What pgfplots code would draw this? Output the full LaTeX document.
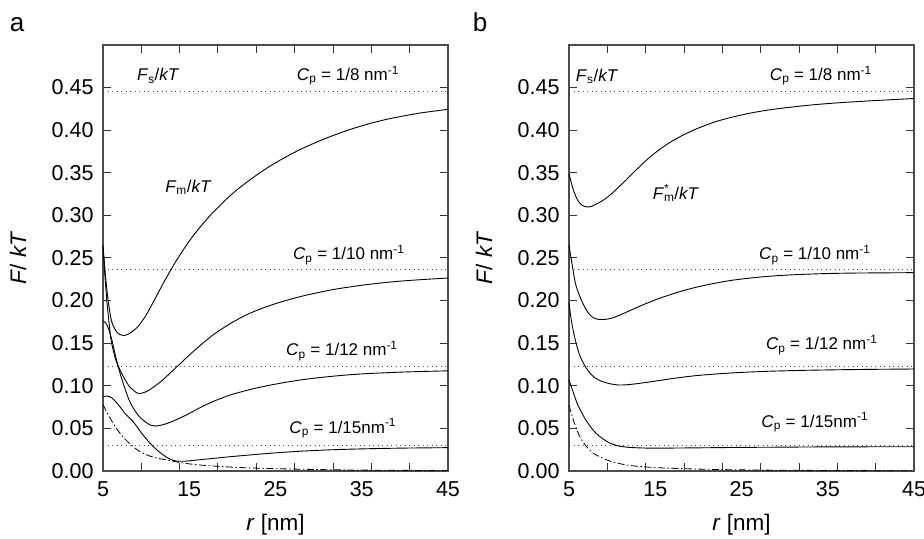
\documentclass[border=0pt]{standalone}
\usepackage{fontspec}
\setmainfont{Liberation Sans}
\usepackage{pgfplots}
\pgfplotsset{compat=1.18}
\pgfplotsset{
  panel/.style={
    scale only axis, width=345bp, height=426bp,
    xmin=5, xmax=45, ymin=0, ymax=0.5,
    clip=false,
    % tick marks every 40/9 nm, labels every 10 nm without marks
    xtick={9.444,13.889,18.333,22.778,27.222,31.667,36.111,40.556},
    xticklabels={},
    extra x ticks={5,15,25,35,45},
    extra x tick labels={5,15,25,35,45},
    extra x tick style={major tick length=0pt},
    ytick={0,0.05,0.1,0.15,0.2,0.25,0.3,0.35,0.4,0.45},
    xtick pos=both, ytick pos=both, xtick align=inside, ytick align=inside,
    major tick length=8bp,
    major tick style={black!80, line width=1bp},
    axis line style={black!70, line width=1.3bp},
    /pgf/number format/assume math mode=true,
    yticklabel style={/pgf/number format/fixed, /pgf/number format/fixed zerofill,
      /pgf/number format/precision=2, xshift=-6bp},
    xticklabel style={yshift=-7bp},
    ticklabel style={font=\fontsize{21.5bp}{25bp}\selectfont},
    label style={font=\fontsize{22.5bp}{26bp}\selectfont},
    xlabel={\textit{r} [nm]},
    ylabel={\textit{F}/ \textit{kT}},
    xlabel style={at={(axis description cs:0.5,-0.127)}, anchor=center},
    ylabel style={at={(axis description cs:-0.246,0.5)}, anchor=center},
  },
  curve/.style={black, line width=0.9bp, smooth, no markers},
  sline/.style={black!70, line width=0.9bp, dash pattern=on 1bp off 3.5bp, no markers},
  dd/.style={black, line width=0.8bp, smooth, dash pattern=on 7bp off 2.5bp on 1.5bp off 2.5bp, no markers},
}
\tikzset{lab/.style={font=\fontsize{17bp}{20bp}\selectfont}}
\begin{document}
\begin{tikzpicture}
\useasboundingbox (0,0) rectangle (924bp,539bp);

% ---- panel a ----
\begin{axis}[panel, at={(103bp,68bp)}, anchor=south west]
  % F_s levels
  \addplot[sline] coordinates {(5,0.445) (45,0.445)};
  \addplot[sline] coordinates {(5,0.236) (45,0.236)};
  \addplot[sline] coordinates {(5,0.1225) (45,0.1225)};
  \addplot[sline] coordinates {(5,0.030) (45,0.030)};
  % C_p = 1/8
  \addplot[curve] coordinates {
    (5,0.265) (5.3,0.228) (5.6,0.200) (5.9,0.180) (6.2,0.170) (6.6,0.163)
    (7.0,0.160) (7.4,0.159) (8,0.161) (9,0.169) (10,0.183) (11,0.2015)
    (12,0.2205) (13,0.2385) (14,0.2548) (15,0.2698) (16,0.283) (17,0.295)
    (18,0.306) (20,0.3255) (22,0.3415) (24,0.3555) (26,0.3675) (28,0.378)
    (30,0.387) (32,0.395) (34,0.402) (36,0.408) (38,0.413) (40,0.417)
    (42,0.4205) (45,0.4245)};
  % C_p = 1/10
  \addplot[curve] coordinates {
    (5,0.262) (5.4,0.205) (5.8,0.165) (6.0,0.150) (6.5,0.130) (7.2,0.114)
    (8,0.100) (8.5,0.095) (9.1,0.091) (10,0.093) (11,0.0995) (12,0.1075)
    (13,0.117) (14,0.1265) (15,0.136) (16,0.145) (17,0.1535) (18,0.1615)
    (20,0.1745) (22,0.185) (24,0.193) (26,0.1995) (28,0.205) (30,0.2095)
    (32,0.2135) (35,0.218) (38,0.2215) (41,0.224) (45,0.2265)};
  % C_p = 1/12
  \addplot[curve] coordinates {
    (5,0.176) (5.3,0.174) (5.6,0.168) (6,0.155) (6.5,0.133) (7,0.114)
    (7.5,0.098) (8,0.084) (8.5,0.074) (9.2,0.064) (10,0.057) (10.6,0.0535)
    (11.3,0.0530) (12,0.0545) (13,0.058) (14,0.0625) (15,0.0675) (16,0.073)
    (17,0.078) (18,0.0825) (19,0.0865) (20,0.090) (22,0.0955) (24,0.100)
    (26,0.1038) (28,0.107) (30,0.1095) (33,0.1125) (36,0.1145) (40,0.1162)
    (45,0.1176)};
  % C_p = 1/15
  \addplot[curve] coordinates {
    (5,0.087) (5.5,0.088) (6,0.086) (6.5,0.081) (7,0.075) (7.5,0.068)
    (8,0.063) (8.5,0.058) (9,0.051) (9.5,0.044) (10,0.038) (10.45,0.0325)
    (11,0.027) (11.7,0.021) (12.4,0.016) (13,0.013) (13.5,0.0117)
    (14.5,0.0115) (16,0.013) (18,0.015) (20,0.017) (24,0.0205)
    (28,0.0233) (32,0.0251) (36,0.0262) (40,0.0269) (45,0.0274)};
  % dash-dot
  \addplot[dd] coordinates {
    (5,0.078) (5.5,0.068) (6,0.059) (6.5,0.051) (7,0.044) (7.5,0.038)
    (8,0.033) (8.7,0.027) (9.3,0.0227) (10.3,0.018) (11.3,0.015) (12.4,0.013)
    (14,0.0098) (16.25,0.007) (20,0.0045) (24,0.003) (30,0.0017) (36,0.001)
    (45,0.0005)};
  \node[lab] at (axis cs:11.4,0.464) {\textit{F}\textsubscript{s}/\textit{kT}};
  \node[lab] at (axis cs:33.4,0.464) {\textit{C}\textsubscript{p} = 1/8 nm\textsuperscript{-1}};
  \node[lab] at (axis cs:14.9,0.333) {\textit{F}\textsubscript{m}/\textit{kT}};
  \node[lab] at (axis cs:33.5,0.2535) {\textit{C}\textsubscript{p} = 1/10 nm\textsuperscript{-1}};
  \node[lab] at (axis cs:32.7,0.141) {\textit{C}\textsubscript{p} = 1/12 nm\textsuperscript{-1}};
  \node[lab] at (axis cs:32.8,0.050) {\textit{C}\textsubscript{p} = 1/15nm\textsuperscript{-1}};
  \node[font=\fontsize{26bp}{30bp}\selectfont] at (axis description cs:-0.249,1.047) {a};
\end{axis}

% ---- panel b ----
\begin{axis}[panel, at={(569bp,68bp)}, anchor=south west]
  \addplot[sline] coordinates {(5,0.445) (45,0.445)};
  \addplot[sline] coordinates {(5,0.236) (45,0.236)};
  \addplot[sline] coordinates {(5,0.1225) (45,0.1225)};
  \addplot[sline] coordinates {(5,0.030) (45,0.030)};
  % C_p = 1/8
  \addplot[curve] coordinates {
    (5,0.349) (5.5,0.330) (6,0.318) (6.5,0.312) (7.05,0.310) (7.6,0.3105)
    (8,0.3125) (9,0.318) (10,0.326) (11,0.3355) (12,0.3455) (13,0.3555)
    (14,0.365) (15,0.3735) (16,0.381) (17,0.3875) (18,0.393) (19,0.398)
    (20,0.4025) (22,0.410) (24,0.4155) (26,0.420) (28,0.4235) (30,0.4262)
    (33,0.4295) (36,0.432) (40,0.4345) (45,0.4372)};
  % C_p = 1/10
  \addplot[curve] coordinates {
    (5,0.265) (5.4,0.240) (5.8,0.218) (6.5,0.199) (7.2,0.186) (7.8,0.180)
    (8.4,0.178) (9.2,0.178) (10,0.1795) (11,0.1835) (12,0.188) (13,0.1925)
    (14,0.1968) (15,0.2008) (16,0.2045) (18,0.211) (20,0.2163) (22,0.2205)
    (24,0.224) (27,0.2275) (30,0.2298) (34,0.2315) (38,0.2323) (45,0.2328)};
  % C_p = 1/12
  \addplot[curve] coordinates {
    (5,0.197) (5.3,0.175) (5.7,0.155) (6.2,0.137) (6.86,0.123) (7.6,0.113)
    (8.4,0.107) (9.5,0.103) (10.7,0.101) (12,0.1015) (14,0.104) (17,0.1085)
    (20,0.1122) (24,0.1152) (28,0.1170) (32,0.1181) (36,0.1188)
    (40,0.1193) (45,0.1197)};
  % C_p = 1/15
  \addplot[curve] coordinates {
    (5,0.107) (5.5,0.092) (6,0.078) (6.5,0.068) (7,0.059) (7.8,0.048)
    (8.5,0.041) (9.5,0.034) (10.5,0.030) (11.7,0.028) (13,0.0272)
    (15,0.0268) (20,0.0272) (25,0.0277) (30,0.028) (35,0.0283) (45,0.0285)};
  % dash-dot
  \addplot[dd] coordinates {
    (5,0.077) (5.5,0.060) (6,0.046) (6.5,0.036) (7,0.029) (7.8,0.021)
    (8.5,0.017) (9.5,0.0125) (10.5,0.0095) (11.7,0.007) (13,0.0055)
    (15,0.004) (18,0.0028) (22,0.0018) (27,0.0011) (33,0.0007) (40,0.0004)
    (45,0.0003)};
  \node[lab] at (axis cs:8.25,0.463) {\textit{F}\textsubscript{s}/\textit{kT}};
  \node[lab] at (axis cs:34.2,0.464) {\textit{C}\textsubscript{p} = 1/8 nm\textsuperscript{-1}};
  \node[lab] at (axis cs:17.4,0.326) {\textit{F}\rlap{\textsuperscript{*}}\textsubscript{m}/\textit{kT}};
  \node[lab] at (axis cs:33.5,0.2535) {\textit{C}\textsubscript{p} = 1/10 nm\textsuperscript{-1}};
  \node[lab] at (axis cs:34.3,0.148) {\textit{C}\textsubscript{p} = 1/12 nm\textsuperscript{-1}};
  \node[lab] at (axis cs:33.5,0.057) {\textit{C}\textsubscript{p} = 1/15nm\textsuperscript{-1}};
  \node[font=\fontsize{26bp}{30bp}\selectfont] at (axis description cs:-0.258,1.054) {b};
\end{axis}
\end{tikzpicture}
\end{document}
